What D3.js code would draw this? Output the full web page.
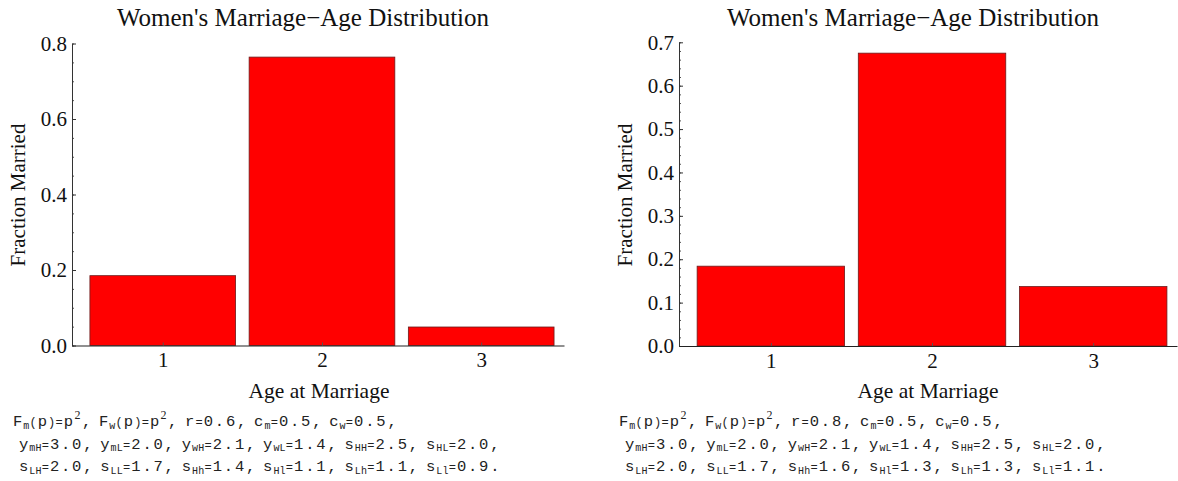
<html>
  <head>
    <script src="https://d3js.org/d3.v7.min.js"></script>
  </head>
  <body style="margin:0;background:#fff;">
    <div id="chart"></div>
    <script>
      // data
      const ages = [1, 2, 3];
      const fracLeft = [0.185, 0.764, 0.049];
      const fracRight = [0.184, 0.675, 0.137];
      const ticksLeft = [0, 0.2, 0.4, 0.6, 0.8];
      const ticksRight = [0, 0.1, 0.2, 0.3, 0.4, 0.5, 0.6, 0.7];
      const title = "Women's Marriage\u2212Age Distribution";
      const xLabel = "Age at Marriage";
      const yLabel = "Fraction Married";
      // footnote lines: _{..} subscript, ^{..} superscript
      const noteLeft = [
        "F_{m}(p)=p^{2}, F_{w}(p)=p^{2}, r=0.6, c_{m}=0.5, c_{w}=0.5,",
        " y_{mH}=3.0, y_{mL}=2.0, y_{wH}=2.1, y_{wL}=1.4, s_{HH}=2.5, s_{HL}=2.0,",
        " s_{LH}=2.0, s_{LL}=1.7, s_{Hh}=1.4, s_{Hl}=1.1, s_{Lh}=1.1, s_{Ll}=0.9."
      ];
      const noteRight = [
        "F_{m}(p)=p^{2}, F_{w}(p)=p^{2}, r=0.8, c_{m}=0.5, c_{w}=0.5,",
        " y_{mH}=3.0, y_{mL}=2.0, y_{wH}=2.1, y_{wL}=1.4, s_{HH}=2.5, s_{HL}=2.0,",
        " s_{LH}=2.0, s_{LL}=1.7, s_{Hh}=1.6, s_{Hl}=1.3, s_{Lh}=1.3, s_{Ll}=1.1."
      ];

      const width = 1178, height = 481;
      const serif = "'Liberation Serif', 'Times New Roman', serif";
      const mono = "'Liberation Mono', 'Courier New', monospace";

      const svg = d3.create('svg')
        .attr('width', width)
        .attr('height', height);

      // typeset a footnote line char by char (mathematica style narrow operators/spaces)
      const cell = {ch: 11.1, op: 7.5, sp: 6, sub: 6.2, sup: 7};
      function note(g, line, x0, y0) {
        const t = g.append('text')
          .attr('y', y0)
          .attr('text-anchor', 'middle')
          .attr('fill', '#222');
        let cx = x0;
        line.split(/([_^]\{[^}]*\})/).forEach(p => {
          if (!p) return;
          let kind = null, s = p;
          if (p[0] === '_' || p[0] === '^') { kind = p[0] === '_' ? 'sub' : 'sup'; s = p.slice(2, -1); }
          for (const c of s) {
            const k = kind || (c === ' ' ? 'sp' : ('=()'.includes(c) ? 'op' : 'ch'));
            const w = cell[k];
            const ts = t.append('tspan').attr('x', cx + w / 2).text(c);
            if (k === 'sub') ts.attr('y', y0 + 2.5).attr('font-family', mono).attr('font-size', 10);
            else if (k === 'sup') ts.attr('y', y0 - 7).attr('font-family', serif).attr('font-size', 12);
            else if (k === 'op') ts.attr('y', y0).attr('font-family', mono).attr('font-size', 12);
            else ts.attr('y', y0).attr('font-family', mono).attr('font-size', 15.5);
            cx += w;
          }
        });
      }

      function panel(cfg) {
        const x = d3.scaleLinear().domain([0.43, 3.52]).range([cfg.left, cfg.right]);
        const y = d3.scaleLinear().domain([0, cfg.ymax]).range([cfg.bottom, cfg.top]);
        const g = svg.append('g');

        // bars
        g.selectAll('rect')
          .data(ages.map((a, i) => ({age: a, v: cfg.values[i]})))
          .enter().append('rect')
          .attr('x', d => x(d.age - 0.4575))
          .attr('width', x(1.4575) - x(0.5425))
          .attr('y', d => y(d.v))
          .attr('height', d => y(0) - y(d.v))
          .attr('fill', '#ff0000')
          .attr('stroke', '#6b1d1d')
          .attr('stroke-width', 0.8);

        // minor y ticks
        const minor = d3.range(0, cfg.ymax + 1e-9, cfg.minorStep);
        g.append('g')
          .attr('transform', `translate(${cfg.left},0)`)
          .call(d3.axisLeft(y).tickValues(minor).tickSize(-2).tickSizeOuter(0).tickFormat(''))
          .call(a => a.select('.domain').remove())
          .call(a => a.selectAll('line').attr('stroke', '#555'));

        // major y axis
        g.append('g')
          .attr('transform', `translate(${cfg.left},0)`)
          .call(d3.axisLeft(y).tickValues(cfg.ticks).tickSize(-4).tickSizeOuter(0)
            .tickPadding(5).tickFormat(d3.format('.1f')))
          .call(a => a.select('.domain').attr('stroke', '#333'))
          .call(a => a.selectAll('line').attr('stroke', '#333'))
          .call(a => a.selectAll('text').attr('font-family', serif).attr('font-size', 21).attr('fill', '#111'));

        // x axis
        g.append('g')
          .attr('transform', `translate(0,${cfg.bottom})`)
          .call(d3.axisBottom(x).tickValues(ages).tickSize(-3).tickSizeOuter(0).tickPadding(7)
            .tickFormat(d3.format('d')))
          .call(a => a.select('.domain').attr('stroke', '#222').attr('stroke-width', 1.2))
          .call(a => a.selectAll('line').attr('stroke', '#555'))
          .call(a => a.selectAll('text').attr('font-family', serif).attr('font-size', 21).attr('fill', '#111'));

        // titles and labels
        g.append('text')
          .attr('x', cfg.titleX).attr('y', 26)
          .attr('text-anchor', 'middle')
          .attr('font-family', serif).attr('font-size', 25).attr('fill', '#111')
          .text(title);
        g.append('text')
          .attr('x', cfg.xLabelX).attr('y', 398)
          .attr('text-anchor', 'middle')
          .attr('font-family', serif).attr('font-size', 21.5).attr('fill', '#111')
          .text(xLabel);
        g.append('text')
          .attr('transform', `translate(${cfg.yLabelX},195) rotate(-90)`)
          .attr('text-anchor', 'middle')
          .attr('font-family', serif).attr('font-size', 21).attr('fill', '#111')
          .text(yLabel);

        // footnote
        cfg.note.forEach((line, i) => note(g, line, cfg.noteX, 426 + i * 22.5));
      }

      panel({left: 72, right: 564, top: 43.5, bottom: 345.5, ymax: 0.8, minorStep: 0.05,
             ticks: ticksLeft, values: fracLeft, titleX: 303, xLabelX: 319, yLabelX: 25, noteX: 12, note: noteLeft});
      panel({left: 679, right: 1177, top: 42.3, bottom: 346, ymax: 0.7, minorStep: 0.02,
             ticks: ticksRight, values: fracRight, titleX: 913, xLabelX: 928, yLabelX: 632, noteX: 618, note: noteRight});

      document.getElementById("chart").appendChild(svg.node());
    </script>
  </body>
</html>
